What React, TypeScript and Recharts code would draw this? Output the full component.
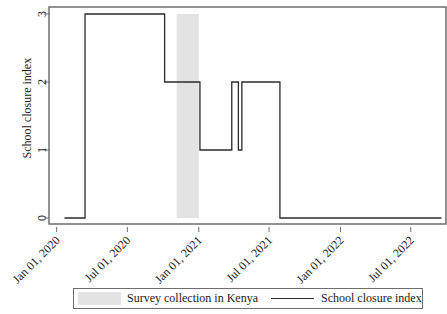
import React from 'react'
import {
  LineChart,
  Line,
  XAxis,
  YAxis,
  ReferenceArea
} from 'recharts'

// Kenya school closure index (step changes)
const closureDates = [
  '2020-01-21',
  '2020-03-14',
  '2020-10-05',
  '2021-01-04',
  '2021-03-27',
  '2021-04-13',
  '2021-04-22',
  '2021-07-29',
  '2022-09-18'
]
const closureIndex = [0, 3, 2, 1, 2, 1, 2, 0, 0]

const surveyStart = '2020-11-05'
const surveyEnd = '2021-01-01'

const xTicks = [
  '2020-01-01',
  '2020-07-01',
  '2021-01-01',
  '2021-07-01',
  '2022-01-01',
  '2022-07-01'
]
const yTicks = [0, 1, 2, 3]

const DAY = 86400000
const t = (s: string) => Date.parse(s)
const xMin = t('2020-01-01') - 19.8 * DAY
const xMax = t('2020-01-01') + 1002.8 * DAY

const FONT = '"Liberation Serif", "Times New Roman", serif'
const FRAME = '#6e6e6e'
const LINE = '#2b2b2b'

const data = closureDates.map((d, i) => ({ date: t(d), index: closureIndex[i] }))

const fmtDate = (v: number) =>
  new Date(v).toLocaleDateString('en-US', {
    month: 'short',
    day: '2-digit',
    year: 'numeric',
    timeZone: 'UTC'
  })

const XTick = ({ x, y, payload }: any) => (
  <g>
    <line x1={x} y1={y - 5} x2={x} y2={y} stroke={FRAME} strokeWidth={1} />
    <text
      transform={`translate(${x + 4},${y + 9}) rotate(-45)`}
      textAnchor="end"
      fontSize={12}
      fontFamily={FONT}
      fill="#222"
    >
      {fmtDate(payload.value)}
    </text>
  </g>
)

const YTick = ({ x, y, payload }: any) => (
  <g>
    <line x1={x + 3} y1={y} x2={x + 8} y2={y} stroke={FRAME} strokeWidth={1} />
    <text
      transform={`translate(${x + 5},${y}) rotate(-90)`}
      textAnchor="middle"
      fontSize={12}
      fontFamily={FONT}
      fill="#222"
    >
      {payload.value}
    </text>
  </g>
)

const App = () => {
  return (
    <div style={{ position: 'absolute', left: 0, top: 0, width: 447, height: 314, background: '#fff' }}>
      <LineChart
        width={447}
        height={314}
        data={data}
        margin={{ top: 7, right: 1, left: 0, bottom: 0 }}
      >
        <XAxis
          dataKey="date"
          type="number"
          scale="time"
          domain={[xMin, xMax]}
          ticks={xTicks.map(t)}
          interval={0}
          tick={<XTick />}
          tickLine={false}
          axisLine={false}
          height={90}
          allowDataOverflow
        />
        <YAxis
          type="number"
          domain={[-0.088, 3.103]}
          ticks={yTicks}
          interval={0}
          tick={<YTick />}
          tickLine={false}
          axisLine={false}
          width={49}
          allowDataOverflow
          label={{
            value: 'School closure index',
            angle: -90,
            position: 'insideLeft',
            dx: 22,
            dy: 43,
            style: { fontSize: 12, fontFamily: FONT, fill: '#222' }
          }}
        />
        <ReferenceArea
          x1={t(surveyStart)}
          x2={t(surveyEnd)}
          y1={0}
          y2={3}
          fill="#e3e3e3"
          fillOpacity={1}
          stroke="none"
        />
        <Line
          type="stepAfter"
          dataKey="index"
          stroke={LINE}
          strokeWidth={1.3}
          dot={false}
          isAnimationActive={false}
        />
        <ReferenceArea
          x1={xMin}
          x2={xMax}
          y1={-0.088}
          y2={3.103}
          fill="none"
          stroke={FRAME}
          strokeWidth={1.5}
        />
      </LineChart>
      <div
        style={{
          position: 'absolute',
          left: 73,
          top: 288,
          width: 350,
          height: 21,
          border: `1px solid ${FRAME}`,
          boxSizing: 'border-box',
          fontFamily: FONT,
          fontSize: 12,
          color: '#222',
          display: 'flex',
          alignItems: 'center',
          whiteSpace: 'nowrap'
        }}
      >
        <span style={{ display: 'inline-block', width: 43, height: 13, background: '#e3e3e3', marginLeft: 4, flexShrink: 0 }} />
        <span style={{ position: 'absolute', left: 53 }}>Survey collection in Kenya</span>
        <span style={{ position: 'absolute', left: 197, top: 9, width: 43, height: 0, borderTop: `1.3px solid ${LINE}` }} />
        <span style={{ position: 'absolute', left: 247 }}>School closure index</span>
      </div>
    </div>
  )
}

export default App
